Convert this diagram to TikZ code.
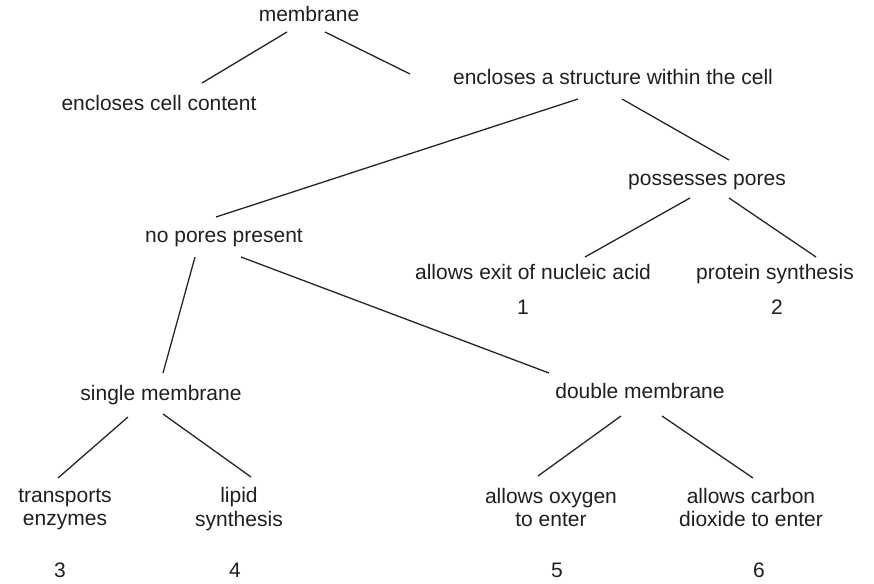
\documentclass[tikz,border=0pt]{standalone}
\usepackage{fontspec}
\setmainfont{Liberation Sans}
\begin{document}
\begin{tikzpicture}[x=1pt,y=-1pt,
  lbl/.style={inner sep=0pt, align=center, text=black!88, font=\fontsize{21}{23.5}\selectfont, text height=15pt, text depth=4.5pt},
  edge/.style={draw=black!85, line width=1.3pt}]
\useasboundingbox (0,0) rectangle (874,583);
\node[lbl] (mem) at (309,16) {membrane};
\node[lbl] (ecc) at (159,105) {encloses cell content};
\node[lbl] (es) at (613,79) {encloses a structure within the cell};
\node[lbl] (pp) at (707,180) {possesses pores};
\node[lbl] (np) at (224,237) {no pores present};
\node[lbl] (ex) at (533,274) {allows exit of nucleic acid};
\node[lbl] (ps) at (775,274) {protein synthesis};
\node[lbl] (n1) at (523,309) {1};
\node[lbl] (n2) at (777,309) {2};
\node[lbl] (sm) at (161,395) {single membrane};
\node[lbl] (dm) at (640,393) {double membrane};
\node[lbl, text height=, text depth=] (te) at (65,509.5) {transports\\enzymes};
\node[lbl, text height=, text depth=] (ls) at (239,509) {lipid\\synthesis};
\node[lbl, text height=, text depth=] (ao) at (551,507.5) {allows oxygen\\to enter};
\node[lbl, text height=, text depth=] (ac) at (751,507.5) {allows carbon\\dioxide to enter};
\node[lbl] (n3) at (60,572) {3};
\node[lbl] (n4) at (235,572) {4};
\node[lbl] (n5) at (557,572) {5};
\node[lbl] (n6) at (759,572) {6};
\draw[edge] ([shift={(-22,16)}]mem.center) -- ([shift={(43,-22)}]ecc.center);
\draw[edge] ([shift={(16,16)}]mem.center) -- ([shift={(-203,-5)}]es.center);
\draw[edge] ([shift={(-35,20)}]es.center) -- ([shift={(-8,-20)}]np.center);
\draw[edge] ([shift={(9,20)}]es.center) -- ([shift={(22,-20)}]pp.center);
\draw[edge] ([shift={(-17,18)}]pp.center) -- ([shift={(52,-17)}]ex.center);
\draw[edge] ([shift={(22,18)}]pp.center) -- ([shift={(41,-17)}]ps.center);
\draw[edge] ([shift={(-29,20)}]np.center) -- ([shift={(2,-22)}]sm.center);
\draw[edge] ([shift={(17,20)}]np.center) -- ([shift={(-91,-20)}]dm.center);
\draw[edge] ([shift={(-33,22)}]sm.center) -- ([shift={(-7,-31.5)}]te.center);
\draw[edge] ([shift={(2,19)}]sm.center) -- ([shift={(12,-32)}]ls.center);
\draw[edge] ([shift={(-19,23)}]dm.center) -- ([shift={(-13,-31.5)}]ao.center);
\draw[edge] ([shift={(22,23)}]dm.center) -- ([shift={(2,-29.5)}]ac.center);
\end{tikzpicture}
\end{document}
